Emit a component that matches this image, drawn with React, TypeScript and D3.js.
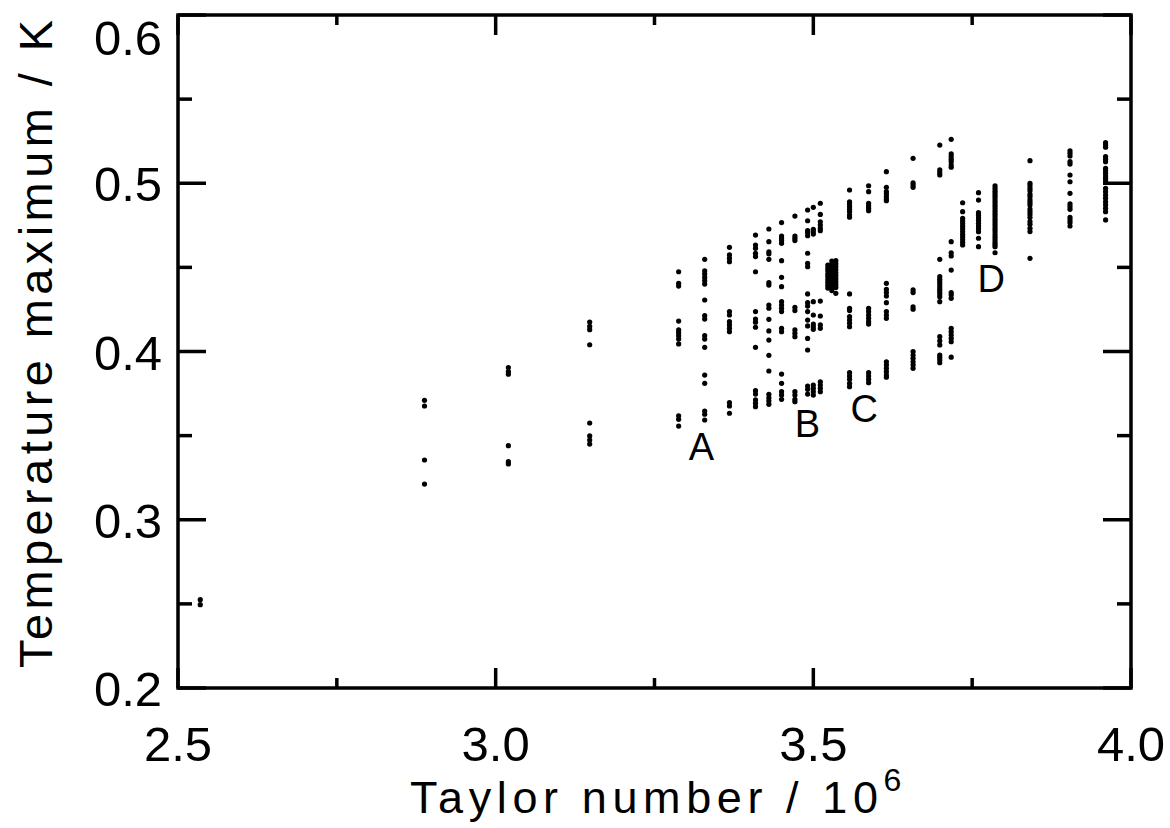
import React from "react";
import * as d3 from "d3";

// Taylor numbers (units of 10^6) of each measured column of points
const taylorNumbers = [
  2.535, 2.888, 3.02, 3.148, 3.288, 3.329, 3.368, 3.409, 3.43, 3.45, 3.471,
  3.491, 3.5, 3.511, 3.5228, 3.5291, 3.5354, 3.557, 3.587, 3.615, 3.657,
  3.699, 3.717, 3.735, 3.76, 3.786, 3.841, 3.904, 3.96,
];

// Temperature maxima (K) observed at each Taylor number
const tempMaxima: number[][] = [
  [0.2525, 0.2495],
  [0.371, 0.3676, 0.3355, 0.3212],
  [0.3905, 0.388, 0.3865, 0.344, 0.3345, 0.3332],
  [0.4175, 0.415, 0.413, 0.404, 0.3575, 0.3498, 0.3474, 0.345],
  [0.4474, 0.4405, 0.4389, 0.4181, 0.4128, 0.4112, 0.4094, 0.4074, 0.4045, 0.3618, 0.3597, 0.3557],
  [0.4548, 0.448, 0.4461, 0.4441, 0.4421, 0.4401, 0.4306, 0.4213, 0.4193, 0.4094, 0.4074, 0.4025, 0.386, 0.3811, 0.3646, 0.3627, 0.3593],
  [0.4619, 0.4574, 0.4554, 0.4534, 0.4237, 0.4217, 0.4177, 0.4158, 0.4138, 0.4118, 0.3696, 0.3676, 0.3633],
  [0.4692, 0.4633, 0.4613, 0.4584, 0.4564, 0.4474, 0.4237, 0.4193, 0.4174, 0.4144, 0.4025, 0.3767, 0.3747, 0.3712, 0.3692, 0.3672],
  [0.4728, 0.4653, 0.4593, 0.458, 0.4548, 0.4409, 0.4395, 0.4276, 0.4257, 0.4191, 0.4122, 0.4068, 0.3977, 0.3884, 0.3746, 0.3725, 0.3706, 0.3686],
  [0.4766, 0.4686, 0.4673, 0.4659, 0.4643, 0.454, 0.4441, 0.4385, 0.4296, 0.4276, 0.4257, 0.4237, 0.4138, 0.4118, 0.3866, 0.3811, 0.3761, 0.3741, 0.3716],
  [0.4805, 0.4686, 0.4673, 0.4659, 0.4263, 0.4243, 0.4128, 0.4108, 0.4088, 0.3761, 0.3741, 0.3716, 0.3702],
  [0.4841, 0.4777, 0.4718, 0.4706, 0.4688, 0.4584, 0.4524, 0.4504, 0.4342, 0.429, 0.427, 0.4237, 0.4187, 0.4152, 0.4078, 0.4009, 0.3795, 0.3775, 0.3747],
  [0.4857, 0.4726, 0.4712, 0.4698, 0.4296, 0.4217, 0.4163, 0.4147, 0.4132, 0.3801, 0.3781, 0.3761, 0.3741],
  [0.4881, 0.4815, 0.4771, 0.4752, 0.4732, 0.4718, 0.43, 0.4211, 0.4158, 0.4138, 0.382, 0.3801, 0.3781, 0.3761],
  [0.4514, 0.4497, 0.4481, 0.4462, 0.4446, 0.4428, 0.4411, 0.4394, 0.4377],
  [0.4538, 0.452, 0.4503, 0.4485, 0.4466, 0.4449, 0.4432, 0.4413, 0.4396, 0.4378, 0.4362],
  [0.4541, 0.4522, 0.4505, 0.4487, 0.4468, 0.4451, 0.4433, 0.4415, 0.4397, 0.4381, 0.4346],
  [0.496, 0.489, 0.4877, 0.4861, 0.4845, 0.4831, 0.4811, 0.4798, 0.4342, 0.4257, 0.4243, 0.4207, 0.4187, 0.4168, 0.4147, 0.3874, 0.3854, 0.3835, 0.3811, 0.3791],
  [0.4985, 0.495, 0.4881, 0.4865, 0.4851, 0.4837, 0.4257, 0.4237, 0.4217, 0.4197, 0.4177, 0.4163, 0.3874, 0.3854, 0.3835, 0.3815],
  [0.5069, 0.4976, 0.495, 0.4936, 0.492, 0.4905, 0.4896, 0.4405, 0.437, 0.435, 0.433, 0.429, 0.4237, 0.4217, 0.4197, 0.3939, 0.392, 0.39, 0.388, 0.386, 0.3847],
  [0.5148, 0.5003, 0.499, 0.4976, 0.4366, 0.435, 0.4266, 0.4251, 0.4, 0.3979, 0.396, 0.3939, 0.392, 0.39],
  [0.5227, 0.5079, 0.5063, 0.5049, 0.4548, 0.4445, 0.4429, 0.4415, 0.4401, 0.4385, 0.437, 0.4356, 0.4342, 0.4326, 0.4296, 0.4088, 0.4064, 0.4039, 0.3979, 0.3966, 0.395, 0.3933],
  [0.5261, 0.5174, 0.5158, 0.5142, 0.5128, 0.5108, 0.5095, 0.4653, 0.4587, 0.4568, 0.4484, 0.435, 0.4336, 0.4316, 0.4138, 0.4118, 0.4098, 0.4078, 0.4058, 0.3966],
  [0.4884, 0.4831, 0.4792, 0.4776, 0.4761, 0.4745, 0.4729, 0.4713, 0.4697, 0.4681, 0.4665, 0.4649, 0.4633],
  [0.4944, 0.49, 0.4825, 0.481, 0.4794, 0.4778, 0.4762, 0.4746, 0.473, 0.4712, 0.4673, 0.4623],
  [0.4985, 0.4969, 0.4953, 0.4938, 0.4923, 0.4908, 0.4893, 0.4877, 0.4862, 0.4847, 0.4832, 0.4816, 0.4801, 0.4786, 0.4771, 0.4755, 0.474, 0.4725, 0.471, 0.4694, 0.4679, 0.4664, 0.4649, 0.4636, 0.4623, 0.4587],
  [0.5134, 0.5, 0.4986, 0.497, 0.4955, 0.4934, 0.492, 0.4901, 0.4886, 0.4871, 0.4847, 0.4831, 0.4815, 0.4796, 0.4772, 0.4756, 0.4732, 0.4713, 0.4554],
  [0.5193, 0.5178, 0.5162, 0.5128, 0.5114, 0.5049, 0.5009, 0.494, 0.4877, 0.4861, 0.4845, 0.4798, 0.4782, 0.4766, 0.4746],
  [0.5241, 0.5227, 0.5214, 0.5158, 0.5142, 0.5128, 0.5089, 0.5075, 0.5059, 0.5043, 0.5029, 0.5015, 0.497, 0.495, 0.493, 0.4911, 0.489, 0.4871, 0.4851, 0.4831, 0.4782],
];

// Annotation letters (anchored at their baselines)
const labelText = ["A", "B", "C", "D"];
const labelTa = [3.324, 3.4906, 3.58, 3.78];
const labelT = [0.3355, 0.3492, 0.3581, 0.4354];

const xMajorTicks = [2.5, 3.0, 3.5, 4.0];
const xMinorTicks = [2.75, 3.25, 3.75];
const yMajorTicks = [0.2, 0.3, 0.4, 0.5, 0.6];
const yMinorTicks = [0.25, 0.35, 0.45, 0.55];

const W = 1170;
const H = 828;
const M = { left: 178, right: 1131, top: 15, bottom: 688 };
const FONT = "'Liberation Sans', Arial, sans-serif";

export default function App() {
  const x = d3.scaleLinear().domain([2.5, 4.0]).range([M.left, M.right]);
  const y = d3.scaleLinear().domain([0.2, 0.6]).range([M.bottom, M.top]);

  const points: { ta: number; t: number }[] = [];
  taylorNumbers.forEach((ta, i) => {
    tempMaxima[i].forEach((t) => points.push({ ta, t }));
  });

  const sw = 3.5;
  const axisColor = "#000";

  return (
    <svg
      width={W}
      height={H}
      viewBox={`0 0 ${W} ${H}`}
      style={{ position: "absolute", left: 0, top: 0, background: "#fff" }}
    >
      <rect x={0} y={0} width={W} height={H} fill="#fff" />
      {/* frame */}
      <rect
        x={M.left}
        y={M.top}
        width={M.right - M.left}
        height={M.bottom - M.top}
        fill="none"
        stroke={axisColor}
        strokeWidth={sw}
      />
      {/* x ticks bottom & top */}
      {xMajorTicks.map((v) => (
        <g key={"xM" + v}>
          <line x1={x(v)} x2={x(v)} y1={M.bottom} y2={M.bottom - 20} stroke={axisColor} strokeWidth={sw} />
          <line x1={x(v)} x2={x(v)} y1={M.top} y2={M.top + 20} stroke={axisColor} strokeWidth={sw} />
        </g>
      ))}
      {xMinorTicks.map((v) => (
        <g key={"xm" + v}>
          <line x1={x(v)} x2={x(v)} y1={M.bottom} y2={M.bottom - 10} stroke={axisColor} strokeWidth={sw} />
          <line x1={x(v)} x2={x(v)} y1={M.top} y2={M.top + 10} stroke={axisColor} strokeWidth={sw} />
        </g>
      ))}
      {/* y ticks left & right */}
      {yMajorTicks.map((v) => (
        <g key={"yM" + v}>
          <line x1={M.left} x2={M.left + 28} y1={y(v)} y2={y(v)} stroke={axisColor} strokeWidth={sw} />
          <line x1={M.right} x2={M.right - 28} y1={y(v)} y2={y(v)} stroke={axisColor} strokeWidth={sw} />
        </g>
      ))}
      {yMinorTicks.map((v) => (
        <g key={"ym" + v}>
          <line x1={M.left} x2={M.left + 14} y1={y(v)} y2={y(v)} stroke={axisColor} strokeWidth={sw} />
          <line x1={M.right} x2={M.right - 14} y1={y(v)} y2={y(v)} stroke={axisColor} strokeWidth={sw} />
        </g>
      ))}
      {/* x tick labels */}
      {xMajorTicks.map((v) => (
        <text
          key={"xl" + v}
          x={x(v)}
          y={M.bottom + 73}
          textAnchor="middle"
          fontFamily={FONT}
          fontSize={49}
          fill="#000"
        >
          {d3.format(".1f")(v)}
        </text>
      ))}
      {/* y tick labels */}
      {yMajorTicks.map((v) => (
        <text
          key={"yl" + v}
          x={M.left - 16}
          y={v === 0.6 ? y(v) + 40 : y(v) + 18}
          textAnchor="end"
          fontFamily={FONT}
          fontSize={49}
          fill="#000"
        >
          {d3.format(".1f")(v)}
        </text>
      ))}
      {/* axis titles */}
      <text x={410} y={813} fontFamily={FONT} fontSize={45} fill="#000">
        <tspan textLength={468} lengthAdjust="spacing">Taylor number / 10</tspan>
        <tspan fontSize={32} dy={-22}>6</tspan>
      </text>
      <text
        transform={`translate(52, 668) rotate(-90)`}
        fontFamily={FONT}
        fontSize={47}
        fill="#000"
        textLength={648}
        lengthAdjust="spacing"
      >
        Temperature maximum / K
      </text>
      {/* points */}
      {points.map((p, i) => (
        <circle key={i} cx={x(p.ta)} cy={y(p.t)} r={2.6} fill="#000" />
      ))}
      {/* letters */}
      {labelText.map((s, i) => (
        <text
          key={s}
          x={x(labelTa[i])}
          y={y(labelT[i])}
          textAnchor="middle"
          fontFamily={FONT}
          fontSize={38}
          fill="#000"
        >
          {s}
        </text>
      ))}
    </svg>
  );
}
